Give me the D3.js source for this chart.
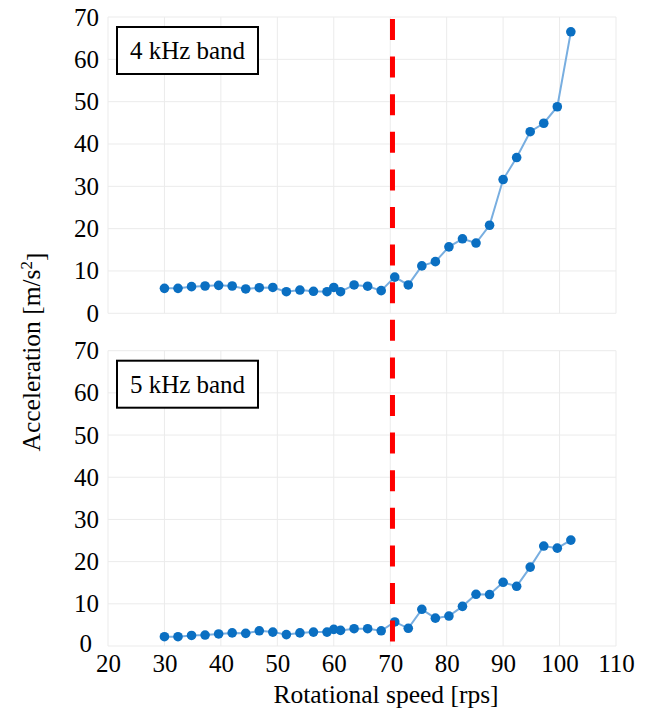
<!DOCTYPE html>
<html>
<head>
<meta charset="utf-8">
<script src="https://cdn.jsdelivr.net/npm/d3@7"></script>
<style>
  body { margin: 0; background: #fff; }
</style>
</head>
<body>
<svg id="chart" width="646" height="711"></svg>
<script>
const width = 646, height = 711;
const serif = "'Liberation Serif', 'Times New Roman', serif";

// rotational speed [rps]
const speeds = [30, 32.4, 34.8, 37.2, 39.6, 42, 44.4, 46.8, 49.2, 51.6, 54, 56.4, 58.8, 60, 61.2, 63.6,
  66, 68.4, 70.8, 73.2, 75.6, 78, 80.4, 82.8, 85.2, 87.6, 90, 92.4, 94.8, 97.2, 99.6, 102];
// acceleration [m/s2]
const band4k = [5.9, 5.9, 6.3, 6.45, 6.6, 6.45, 5.75, 6.05, 6.1, 5.1, 5.5, 5.2, 5.1, 6.1, 5.1, 6.7,
  6.4, 5.35, 8.55, 6.7, 11.2, 12.2, 15.7, 17.6, 16.6, 20.8, 31.6, 36.8, 42.9, 44.9, 48.8, 66.5];
const band5k = [2.2, 2.2, 2.5, 2.6, 2.85, 3.1, 3.0, 3.6, 3.3, 2.7, 3.1, 3.3, 3.3, 3.95, 3.7, 4.1,
  4.1, 3.6, 5.7, 4.2, 8.7, 6.6, 7.1, 9.4, 12.25, 12.2, 15.1, 14.15, 18.7, 23.7, 23.2, 25.1];
const xTicks = [20, 30, 40, 50, 60, 70, 80, 90, 100, 110];
const yTicks = [0, 10, 20, 30, 40, 50, 60, 70];
const criticalSpeed = 70.4;

const panels = [
  { label: "4 kHz band", values: band4k, top: 17, bottom: 313.3 },
  { label: "5 kHz band", values: band5k, top: 350.7, bottom: 646 }
];

const svg = d3.select("#chart");
const x = d3.scaleLinear().domain([20, 110]).range([108, 616]);

panels.forEach((p, pi) => {
  const y = d3.scaleLinear().domain([0, 70]).range([p.bottom, p.top]);
  const g = svg.append("g");

  // grid
  g.selectAll(".vg").data(xTicks).join("line")
    .attr("x1", d => x(d)).attr("x2", d => x(d))
    .attr("y1", p.top).attr("y2", p.bottom)
    .attr("stroke", "#ebebeb").attr("stroke-width", 1);
  g.selectAll(".hg").data(yTicks).join("line")
    .attr("x1", x(20)).attr("x2", x(110))
    .attr("y1", d => y(d)).attr("y2", d => y(d))
    .attr("stroke", "#ebebeb").attr("stroke-width", 1);

  // y axis
  const yAxis = g.append("g")
    .attr("transform", `translate(${x(20)},0)`)
    .call(d3.axisLeft(y).tickValues(yTicks).tickSize(0).tickPadding(9));
  yAxis.select(".domain").remove();
  yAxis.selectAll("text")
    .style("font-family", serif)
    .style("font-size", "25px").style("fill", "#000");
  if (pi === 1) {
    yAxis.selectAll(".tick").filter(d => d === 0).select("text")
      .attr("dx", "-7").attr("dy", "0.2em");
  }

  // series
  const pts = speeds.map((s, i) => [s, p.values[i]]);
  g.append("path").datum(pts)
    .attr("fill", "none")
    .attr("stroke", "#78aee0").attr("stroke-width", 2)
    .attr("d", d3.line().x(d => x(d[0])).y(d => y(d[1])));
  g.selectAll(".pt").data(pts).join("circle")
    .attr("cx", d => x(d[0])).attr("cy", d => y(d[1]))
    .attr("r", 4.8).attr("fill", "#0a6fc2");

  // label box
  const box = g.append("g");
  box.append("rect")
    .attr("x", 117).attr("y", p.top + 10)
    .attr("width", 141).attr("height", 47)
    .attr("fill", "#fff").attr("stroke", "#000").attr("stroke-width", 2);
  box.append("text")
    .attr("x", 187.5).attr("y", p.top + 33.5)
    .attr("text-anchor", "middle").attr("dominant-baseline", "central")
    .style("font-family", serif)
    .style("font-size", "25px")
    .text(p.label);

  if (pi === 1) {
    const xAxis = g.append("g")
      .attr("transform", `translate(0,${p.bottom})`)
      .call(d3.axisBottom(x).tickValues(xTicks).tickSize(0).tickPadding(8));
    xAxis.select(".domain").remove();
    xAxis.selectAll("text")
      .style("font-family", serif)
      .style("font-size", "25px").style("fill", "#000");
  }
});

// critical speed marker
svg.append("line")
  .attr("x1", x(criticalSpeed)).attr("x2", x(criticalSpeed))
  .attr("y1", 19).attr("y2", 646)
  .attr("stroke", "#ff0000").attr("stroke-width", 5)
  .attr("stroke-dasharray", "21,16.6");

// axis titles
svg.append("text")
  .attr("x", 386).attr("y", 703)
  .attr("text-anchor", "middle")
  .style("font-family", serif)
  .style("font-size", "25.5px")
  .text("Rotational speed [rps]");

const yt = svg.append("text")
  .attr("transform", "translate(40,352) rotate(-90)")
  .attr("text-anchor", "middle")
  .style("font-family", serif)
  .style("font-size", "25.5px");
yt.append("tspan").text("Acceleration [m/s");
yt.append("tspan").attr("dy", "-0.45em").style("font-size", "17px").text("2");
yt.append("tspan").attr("dy", "0.45em").text("]");
</script>
</body>
</html>
